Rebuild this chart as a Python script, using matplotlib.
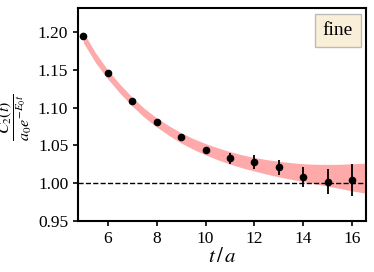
import matplotlib
matplotlib.use("Agg")
import matplotlib.pyplot as plt
import numpy as np

# data points
t_data = [5, 6, 7, 8, 9, 10, 11, 12, 13, 14, 15, 16]
c_data = [1.195, 1.1455, 1.109, 1.081, 1.061, 1.044, 1.033, 1.028, 1.021, 1.0085, 1.0023, 1.0045]
c_err = [0.002, 0.002, 0.0025, 0.003, 0.0035, 0.004, 0.007, 0.0088, 0.010, 0.013, 0.017, 0.021]

# fit band
t_band = [5.0, 5.5, 6.0, 6.5, 7.0, 7.5, 8.0, 8.5, 9.0, 9.5, 10.0, 10.5, 11.0, 11.5, 12.0,
          12.5, 13.0, 13.5, 14.0, 14.5, 15.0, 15.5, 16.0, 16.6]
band_mid = [1.193, 1.166, 1.144, 1.125, 1.108, 1.093, 1.0805, 1.0697, 1.060, 1.052, 1.045,
            1.039, 1.0336, 1.029, 1.0251, 1.0217, 1.0187, 1.0162, 1.014, 1.0121, 1.0105,
            1.0091, 1.0078, 1.0066]
band_half = [0.007, 0.0065, 0.006, 0.0059, 0.0058, 0.0059, 0.006, 0.0064, 0.0068, 0.0071,
             0.0075, 0.0079, 0.0083, 0.0086, 0.009, 0.0096, 0.0103, 0.011, 0.0118, 0.013,
             0.0145, 0.016, 0.018, 0.020]

plt.rcParams['font.family'] = ['Liberation Serif', 'DejaVu Serif']
plt.rcParams['mathtext.fontset'] = 'stix'

fig = plt.figure(figsize=(3.74, 2.72), dpi=100)
ax = fig.add_axes([0.2086, 0.1875, 0.77, 0.783])

mid = np.array(band_mid)
half = np.array(band_half)
ax.fill_between(t_band, mid - half, mid + half, color='#ffaaaa', lw=0, zorder=1)
ax.axhline(1.0, color='black', ls='--', lw=1.0, zorder=2)
ax.errorbar(t_data, c_data, yerr=c_err, fmt='o', color='black', ms=4.5, elinewidth=1.3,
            capsize=0, zorder=3)

ax.set_xlim(4.78, 16.57)
ax.set_ylim(0.95, 1.232)
ax.set_xticks([6, 8, 10, 12, 14, 16])
ax.set_yticks([0.95, 1.00, 1.05, 1.10, 1.15, 1.20])
ax.set_yticklabels(['0.95', '1.00', '1.05', '1.10', '1.15', '1.20'])
ax.tick_params(labelsize=12.5, width=1.2, length=3.5)
for s in ax.spines.values():
    s.set_linewidth(1.5)

ax.set_xlabel(r'$t\,/\,a$', fontsize=15, labelpad=1)
fig.text(15 / 374, 1 - 117 / 272, r'$\dfrac{C_2(t)}{a_0 e^{-E_0 t}}$', fontsize=11.5,
         rotation=90, ha='center', va='center')

ax.text(0.955, 0.935, 'fine', transform=ax.transAxes, ha='right', va='top', fontsize=14,
        bbox=dict(boxstyle='square,pad=0.4', facecolor='wheat', alpha=0.5, edgecolor='gray'))

fig.savefig('out.png', dpi=100)
